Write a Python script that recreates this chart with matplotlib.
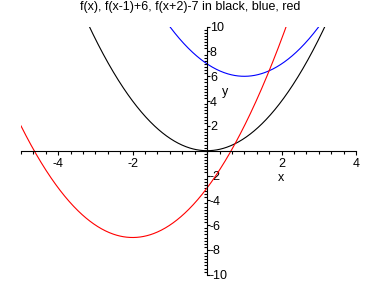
import numpy as np
import matplotlib
matplotlib.use('Agg')
import matplotlib.pyplot as plt
from matplotlib.ticker import FixedLocator, MultipleLocator

plt.rcParams['font.family'] = ['Liberation Sans', 'DejaVu Sans']

title = "f(x), f(x-1)+6, f(x+2)-7 in black, blue, red"
x_range = [-5, 4]
y_range = [-10, 10]
x_shifts = [0, 1, -2]
y_shifts = [0, 6, -7]
colors = ['black', 'blue', 'red']
x_ticks = [-4, -2, 2, 4]
y_ticks = [-10, -8, -6, -4, -2, 2, 4, 6, 8, 10]


def f(x):
    return x ** 2


fig = plt.figure(figsize=(3.81, 2.83), dpi=100)
ax = fig.add_axes([21 / 381, (283 - 274.7) / 283, 335 / 381, 248 / 283])

xs = np.linspace(x_range[0], x_range[1], 600)
for h, k, c in zip(x_shifts, y_shifts, colors):
    ax.plot(xs, f(xs - h) + k, color=c, lw=0.8)

ax.set_xlim(x_range)
ax.set_ylim(y_range)

for s in ['top', 'right']:
    ax.spines[s].set_visible(False)
ax.spines['left'].set_position(('data', 0))
ax.spines['bottom'].set_position(('data', 0))
ax.spines['left'].set_linewidth(0.8)
ax.spines['bottom'].set_linewidth(0.8)

ax.xaxis.set_major_locator(FixedLocator(x_ticks))
ax.xaxis.set_minor_locator(MultipleLocator(1 / 3))
ax.yaxis.set_major_locator(FixedLocator(y_ticks))
ax.yaxis.set_minor_locator(MultipleLocator(0.25))
ax.set_xticklabels([str(t) for t in x_ticks])
ax.set_yticklabels([str(t) for t in y_ticks])

ax.tick_params(axis='x', which='major', direction='out', length=3, width=0.8,
               labelsize=9, pad=2)
ax.tick_params(axis='x', which='minor', direction='out', length=2, width=0.8)
ax.tick_params(axis='y', which='major', direction='in', length=2, width=0.8,
               labelsize=9, pad=-2)
ax.tick_params(axis='y', which='minor', direction='out', length=2, width=0.8)
for lab in ax.get_yticklabels():
    lab.set_horizontalalignment('left')

ax.text(0.776, 0.39, 'x', transform=ax.transAxes, ha='center', va='center', fontsize=9)
ax.text(0.609, 0.737, 'y', transform=ax.transAxes, ha='center', va='center', fontsize=9)

fig.text(190 / 381, 1 - 1 / 283, title, ha='center', va='top', fontsize=9)

fig.savefig('out.png', dpi=100)
